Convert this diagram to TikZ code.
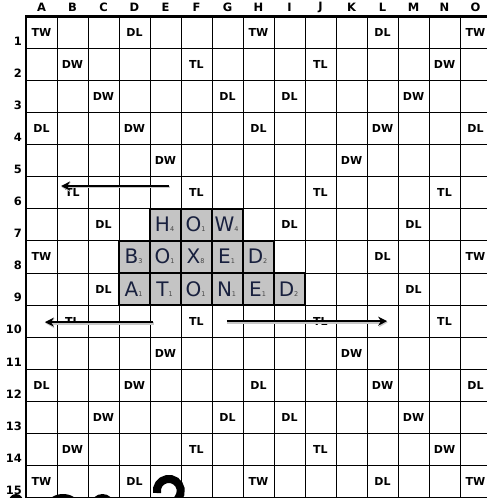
\documentclass[tikz,border=0pt]{standalone}
\usepackage{fontspec}
\setmainfont{DejaVu Sans}
\usetikzlibrary{arrows.meta}
\definecolor{tilegray}{RGB}{196,196,196}
\definecolor{tileink}{RGB}{24,32,62}
\definecolor{subink}{RGB}{70,70,70}
\tikzset{
  gridline/.style={line width=0.9pt, draw=black},
  borderline/.style={line width=2.6pt, draw=black},
  prem/.style={font=\bfseries\fontsize{11}{12}\selectfont, inner sep=0pt},
  head/.style={font=\bfseries\fontsize{11.5}{12}\selectfont, inner sep=0pt},
  tilebox/.style={draw=black, line width=1.8pt},
  tiletext/.style={font=\fontsize{20}{22}\selectfont, text=tileink, inner sep=0pt},
  movearrow/.style={line width=1.7pt, draw=black, -{Stealth[length=9pt,width=9pt]}},
  shadowarrow/.style={line width=2.4pt, draw=black!22, -{Stealth[length=9pt,width=10pt]}},
}
\newcommand{\tl}[2]{#1{\fontsize{6.5}{7}\selectfont\color{subink}#2}}
\begin{document}
\begin{tikzpicture}[x=1pt,y=-1pt]
\useasboundingbox (0,0) rectangle (487,498);
\clip (0,0) rectangle (487,498);
\fill[white] (0,0) rectangle (487,498);
\begin{scope}[shift={(26,16.2)}, x=31pt, y=-32.1pt]
  % tiles
  \foreach \i/\j/\L/\v in {4/6/H/4,5/6/O/1,6/6/W/4,
      3/7/B/3,4/7/O/1,5/7/X/8,6/7/E/1,7/7/D/2,
      3/8/A/1,4/8/T/1,5/8/O/1,6/8/N/1,7/8/E/1,8/8/D/2}{
    \fill[tilegray] (\i,\j) rectangle ++(1,1);
  }
  % grid
  \foreach \i in {1,...,14} \draw[gridline] (\i,0) -- (\i,15);
  \foreach \j in {1,...,14} \draw[gridline] (0,\j) -- (15.5,\j);
  \draw[borderline] (15.5,0) -- (0,0) -- (0,15.2);
  \draw[gridline, line width=1.4pt] (0,15) -- (15.5,15);
  % tile borders and letters
  \foreach \i/\j/\L/\v in {4/6/H/4,5/6/O/1,6/6/W/4,
      3/7/B/3,4/7/O/1,5/7/X/8,6/7/E/1,7/7/D/2,
      3/8/A/1,4/8/T/1,5/8/O/1,6/8/N/1,7/8/E/1,8/8/D/2}{
    \draw[tilebox] (\i,\j) rectangle ++(1,1);
    \node[tiletext] (t-\i-\j) at (\i+0.47,\j+0.49) {\tl{\L}{\v}};
  }
  % premium labels
  \foreach \i/\j in {0/0,7/0,14/0,0/7,14/7,0/14,7/14,14/14}
    \node[prem] (tw-\i-\j) at (\i+0.5,\j+0.5) {TW};
  \foreach \i/\j in {1/1,2/2,3/3,4/4,13/1,12/2,11/3,10/4,1/13,2/12,3/11,4/10,13/13,12/12,11/11,10/10}
    \node[prem] (dw-\i-\j) at (\i+0.5,\j+0.5) {DW};
  \foreach \i/\j in {5/1,9/1,1/5,5/5,9/5,13/5,1/9,5/9,9/9,13/9,5/13,9/13}
    \node[prem] (tl-\i-\j) at (\i+0.5,\j+0.5) {TL};
  \foreach \i/\j in {3/0,11/0,6/2,8/2,0/3,7/3,14/3,2/6,8/6,12/6,11/7,2/8,12/8,0/11,7/11,14/11,6/12,8/12,3/14,11/14}
    \node[prem] (dl-\i-\j) at (\i+0.5,\j+0.5) {DL};
  % column headers
  \foreach \c [count=\n from 0] in {A,B,C,D,E,F,G,H,I,J,K,L,M,N,O}
    \node[head] (col-\c) at (\n+0.5,-0.28) {\c};
  % row numbers
  \foreach \r in {1,...,15}
    \node[head, anchor=base east] (row-\r) at (-0.13,\r-0.1) {\r};
  % arrows
  \coordinate (a1s) at (4.61,5.29);
  \coordinate (a1e) at (1.13,5.29);
  \coordinate (a2s) at (4.10,9.53);
  \coordinate (a2e) at (0.61,9.53);
  \coordinate (a3s) at (6.48,9.50);
  \coordinate (a3e) at (11.65,9.50);
  \foreach \s/\e in {a1s/a1e,a2s/a2e,a3s/a3e}{
    \draw[shadowarrow, transform canvas={shift={(0.6pt,-1.2pt)}}] (\s) -- (\e);
  }
  \foreach \s/\e in {a1s/a1e,a2s/a2e,a3s/a3e}{
    \draw[movearrow] (\s) -- (\e);
  }
\end{scope}
% partial dark shapes at the bottom edge
\fill[black] (16,501) ellipse [x radius=7, y radius=7];
\fill[black] (63,504) ellipse [x radius=15, y radius=10];
\fill[black] (102.5,504) ellipse [x radius=11, y radius=10];
\draw[black, line width=8pt] (157,493) arc[start angle=170, end angle=400, radius=12];
\end{tikzpicture}
\end{document}
